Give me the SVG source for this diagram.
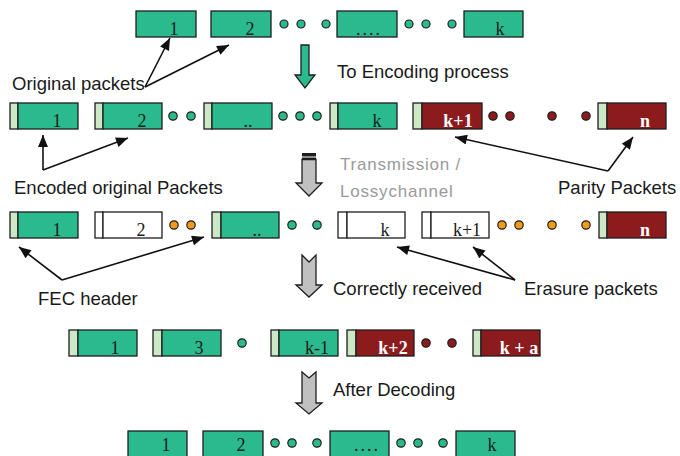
<svg xmlns="http://www.w3.org/2000/svg" width="680" height="456" viewBox="0 0 680 456">
<defs>
<style>
.g{fill:#2bba8e;stroke:#1e1e1e;stroke-width:1.3}
.h{fill:#cde8c6;stroke:#1e1e1e;stroke-width:1.3}
.r{fill:#8c1b1e;stroke:#1e1e1e;stroke-width:1.3}
.w{fill:#ffffff;stroke:#1e1e1e;stroke-width:1.3}
.num{font-family:"Liberation Serif","Times New Roman",serif;font-size:18px;text-anchor:middle;fill:#1a1a1a}
.pn{fill:#ffffff;font-weight:bold}
.lbl{font-family:"Liberation Sans",Arial,sans-serif;font-size:18.5px;fill:#1a1a1a}
.gray{font-family:"Liberation Sans",Arial,sans-serif;font-size:17px;fill:#9a9a9a;letter-spacing:0.8px}
.dt{fill:#2bba8e;stroke:#1e1e1e;stroke-width:1.2}
.dr{fill:#8c1b1e;stroke:#1e1e1e;stroke-width:1.2}
.do{fill:#f39a1e;stroke:#1e1e1e;stroke-width:1.2}
.con{stroke:#111;stroke-width:1.6;fill:none;marker-end:url(#ah)}
.ga{fill:#c0c0c0;stroke:#1e1e1e;stroke-width:1.3}
</style>
<marker id="ah" viewBox="0 0 12 10" refX="12" refY="5" markerWidth="13" markerHeight="10" orient="auto" markerUnits="userSpaceOnUse"><path d="M0,0 L12,5 L0,10 z" fill="#111"/></marker>
</defs>
<rect width="680" height="456" fill="#ffffff"/>

<!-- Row 1: original packets -->
<g id="o1"><rect class="g" x="136" y="11" width="60" height="26"/><text class="num" x="174" y="35">1</text></g>
<g id="o2"><rect class="g" x="211" y="11" width="60" height="26"/><text class="num" x="250" y="35">2</text></g>
<g id="o3"><rect class="g" x="337" y="11" width="60" height="26"/><text class="num" x="369" y="35" letter-spacing="2">....</text></g>
<g id="o4"><rect class="g" x="464" y="11" width="59" height="26"/><text class="num" x="500" y="35">k</text></g>
<g id="dots1"><circle class="dt" cx="284" cy="24" r="4"/><circle class="dt" cx="301" cy="24" r="4"/><circle class="dt" cx="326" cy="24" r="4"/><circle class="dt" cx="409" cy="24" r="4"/><circle class="dt" cx="426" cy="24" r="4"/><circle class="dt" cx="452" cy="24" r="4"/></g>

<!-- Row 2: encoded -->
<g id="e1"><rect class="h" x="10" y="103" width="8" height="26"/><rect class="g" x="18" y="103" width="60" height="26"/><text class="num" x="57" y="126.5">1</text></g>
<g id="e2"><rect class="h" x="95" y="103" width="8" height="26"/><rect class="g" x="103" y="103" width="59" height="26"/><text class="num" x="142" y="126.5">2</text></g>
<g id="e3"><rect class="h" x="204" y="103" width="8" height="26"/><rect class="g" x="212" y="103" width="60" height="26"/><text class="num" x="248" y="126.5">..</text></g>
<g id="e4"><rect class="h" x="330" y="103" width="8" height="26"/><rect class="g" x="338" y="103" width="59" height="26"/><text class="num" x="377" y="126.5">k</text></g>
<g id="p1"><rect class="h" x="413" y="103" width="9" height="26"/><rect class="r" x="422" y="103" width="60" height="26"/><text class="num pn" x="458" y="126.5">k+1</text></g>
<g id="p2"><rect class="h" x="598" y="103" width="9" height="26"/><rect class="r" x="607" y="103" width="59" height="26"/><text class="num pn" x="645" y="126.5">n</text></g>
<g id="dots2"><circle class="dt" cx="173" cy="116" r="4.2"/><circle class="dt" cx="191" cy="116" r="4.2"/><circle class="dt" cx="283" cy="116" r="4.2"/><circle class="dt" cx="300" cy="116" r="4.2"/><circle class="dt" cx="317" cy="116" r="4.2"/><circle class="dr" cx="493" cy="116" r="4.2"/><circle class="dr" cx="510" cy="116" r="4.2"/><circle class="dr" cx="552" cy="116" r="4.2"/><circle class="dr" cx="586" cy="116" r="4.2"/></g>

<!-- Row 3: after channel -->
<g id="c1"><rect class="h" x="10" y="212" width="8" height="26"/><rect class="g" x="18" y="212" width="60" height="26"/><text class="num" x="57" y="235.5">1</text></g>
<g id="c2"><rect class="w" x="95" y="212" width="8" height="26"/><rect class="w" x="103" y="212" width="59" height="26"/><text class="num" x="141" y="235.5">2</text></g>
<g id="c3"><rect class="h" x="212" y="212" width="9" height="26"/><rect class="g" x="221" y="212" width="58" height="26"/><text class="num" x="257" y="235.5">..</text></g>
<g id="c4"><rect class="w" x="338" y="212" width="9" height="26"/><rect class="w" x="347" y="212" width="58" height="26"/><text class="num" x="385" y="235.5">k</text></g>
<g id="c5"><rect class="w" x="422" y="212" width="9" height="26"/><rect class="w" x="431" y="212" width="58" height="26"/><text class="num" x="467" y="235.5">k+1</text></g>
<g id="c6"><rect class="h" x="599" y="212" width="8" height="26"/><rect class="r" x="607" y="212" width="59" height="26"/><text class="num pn" x="645" y="235.5">n</text></g>
<g id="dots3"><circle class="do" cx="174" cy="225" r="4.2"/><circle class="do" cx="191" cy="225" r="4.2"/><circle class="dt" cx="292" cy="225" r="4.2"/><circle class="dt" cx="317" cy="225" r="4.2"/><circle class="do" cx="502" cy="225" r="4.2"/><circle class="do" cx="519" cy="225" r="4.2"/><circle class="do" cx="552" cy="225" r="4.2"/><circle class="do" cx="586" cy="225" r="4.2"/></g>

<!-- Row 4: correctly received -->
<g id="d1"><rect class="h" x="69" y="330" width="9" height="26"/><rect class="g" x="78" y="330" width="59" height="26"/><text class="num" x="115" y="353.5">1</text></g>
<g id="d2"><rect class="h" x="153" y="330" width="9" height="26"/><rect class="g" x="162" y="330" width="59" height="26"/><text class="num" x="199" y="353.5">3</text></g>
<g id="d3"><rect class="h" x="271" y="330" width="8" height="26"/><rect class="g" x="279" y="330" width="59" height="26"/><text class="num" x="317" y="353.5">k-1</text></g>
<g id="d4"><rect class="h" x="347" y="330" width="9" height="26"/><rect class="r" x="356" y="330" width="58" height="26"/><text class="num pn" x="393" y="353.5">k+2</text></g>
<g id="d5"><rect class="h" x="473" y="330" width="8" height="26"/><rect class="r" x="481" y="330" width="59" height="26"/><text class="num pn" x="519" y="353.5">k + a</text></g>
<g id="dots4"><circle class="dt" cx="242" cy="343" r="4.2"/><circle class="dr" cx="426" cy="343" r="4.2"/><circle class="dr" cx="452" cy="343" r="4.2"/></g>

<!-- Row 5: decoded -->
<g id="f1"><rect class="g" x="128" y="431" width="59" height="26"/><text class="num" x="166" y="451">1</text></g>
<g id="f2"><rect class="g" x="203" y="431" width="60" height="26"/><text class="num" x="241" y="451">2</text></g>
<g id="f3"><rect class="g" x="330" y="431" width="59" height="26"/><text class="num" x="367" y="451" letter-spacing="2">....</text></g>
<g id="f4"><rect class="g" x="456" y="431" width="59" height="26"/><text class="num" x="492" y="451">k</text></g>
<g id="dots5"><circle class="dt" cx="275" cy="443" r="4.2"/><circle class="dt" cx="292" cy="443" r="4.2"/><circle class="dt" cx="317" cy="443" r="4.2"/><circle class="dt" cx="401" cy="443" r="4.2"/><circle class="dt" cx="418" cy="443" r="4.2"/><circle class="dt" cx="443" cy="443" r="4.2"/></g>

<!-- Process arrows -->
<g id="arrow-encode"><path d="M301,45 H309 V75 H315 L305,88 L295,75 H301 Z" class="g"/></g>
<g id="arrow-channel"><rect x="302" y="153" width="14" height="3.5" fill="#1e1e1e"/><rect x="302" y="157.5" width="14" height="1.8" fill="#1e1e1e"/><path d="M302,159.5 H316 V183 H322 L309,196 L296,183 H302 Z" class="ga"/></g>
<g id="arrow-received"><path d="M302,255 L309,262 L316,255 V285 H322 L309,297 L296,285 H302 Z" class="ga"/></g>
<g id="arrow-decode"><path d="M302,372 L309,378 L316,372 V403 H322 L309,414 L296,403 H302 Z" class="ga"/></g>

<!-- Labels -->
<g id="labels">
<text class="lbl" x="12" y="90">Original packets</text>
<text class="lbl" x="337" y="78">To Encoding process</text>
<text class="lbl" x="14" y="194">Encoded original Packets</text>
<text class="gray" x="340" y="170">Transmission /</text>
<text class="gray" x="340" y="197">Lossychannel</text>
<text class="lbl" x="558" y="194">Parity Packets</text>
<text class="lbl" x="38" y="305">FEC header</text>
<text class="lbl" x="333" y="295">Correctly received</text>
<text class="lbl" x="524" y="295">Erasure packets</text>
<text class="lbl" x="333" y="396">After Decoding</text>
</g>

<!-- Connectors -->
<g id="connectors">
<path class="con" d="M145,87 L170,38"/>
<path class="con" d="M145,87 L229,45"/>
<path class="con" d="M43,170 L43,135"/>
<path class="con" d="M43,170 L128,138"/>
<path class="con" d="M608,171 L455,137"/>
<path class="con" d="M608,171 L633,137"/>
<path class="con" d="M62,280 L19,247"/>
<path class="con" d="M62,280 L204,237"/>
<path class="con" d="M515,280 L397,247"/>
<path class="con" d="M515,280 L473,247"/>
</g>
</svg>
